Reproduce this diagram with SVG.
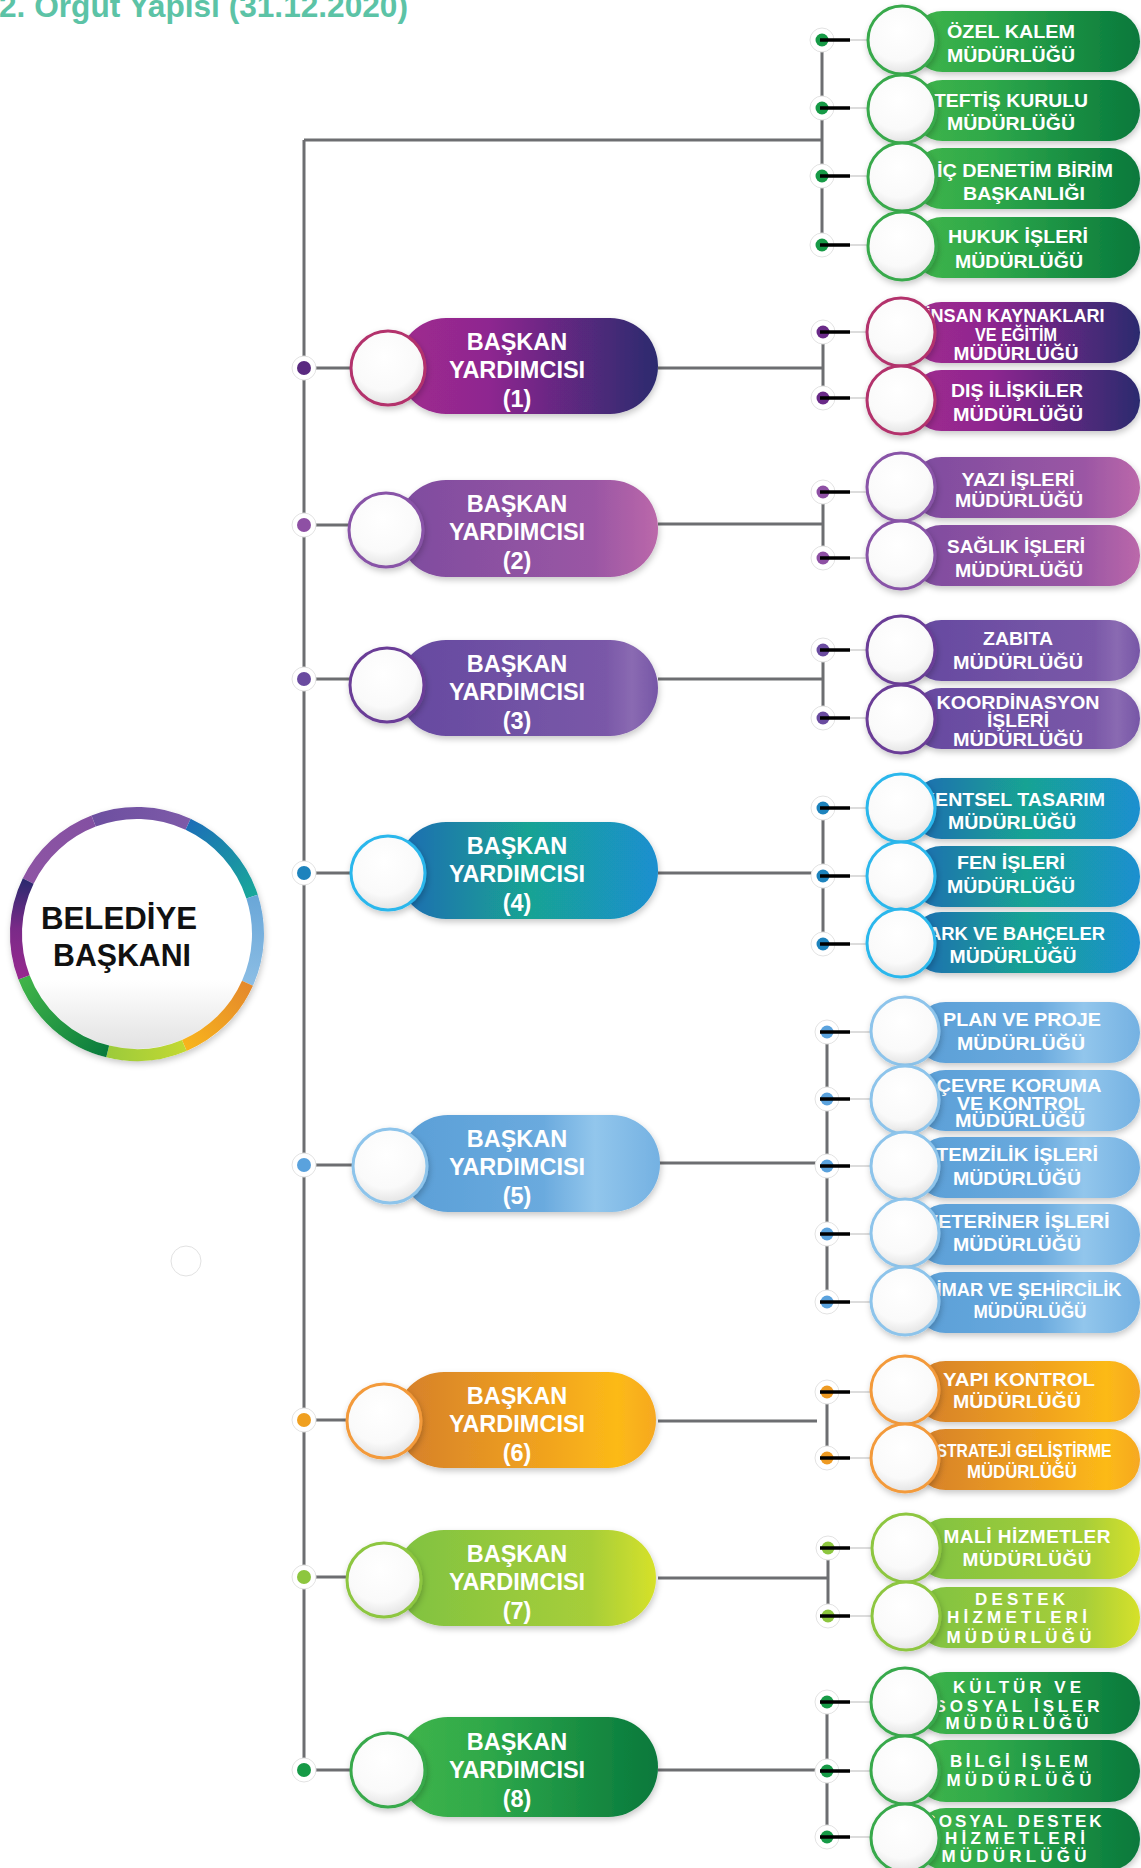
<svg xmlns="http://www.w3.org/2000/svg" width="1141" height="1868" viewBox="0 0 1141 1868">
<style>
.ln{stroke:#6d6e71;stroke-width:3;fill:none}
.tk{stroke:#000;stroke-width:3.5}
.th{stroke:#dcdcdc;stroke-width:2}
.halo{fill:#fff;stroke:#e3e3e3;stroke-width:1}
.cw{fill:url(#cw);stroke-width:3;filter:url(#sh)}
.pl{filter:url(#sh)}
.t{font-family:"Liberation Sans",Arial,sans-serif;font-weight:bold;fill:#fff;text-anchor:middle}
.r{font-size:19px}
.r3{font-size:18px}
.rs{font-size:17px}
.vp{font-size:23.5px}
.bb{font-family:"Liberation Sans",Arial,sans-serif;font-weight:bold;fill:#111;text-anchor:middle;font-size:32px}
.ti{font-family:"Liberation Sans",Arial,sans-serif;font-weight:bold;fill:#5cc3a6;font-size:31px}
.seg{fill:none;stroke-width:12}
</style>
<defs>
<filter id="sh" x="-20%" y="-30%" width="140%" height="170%"><feDropShadow dx="1" dy="3" stdDeviation="3" flood-color="#000" flood-opacity="0.22"/></filter>
<radialGradient id="cw" cx="0.45" cy="0.35" r="0.75"><stop offset="0" stop-color="#fff"/><stop offset="0.6" stop-color="#fafafa"/><stop offset="1" stop-color="#d9d9d9"/></radialGradient>
<linearGradient id="cbig" x1="0" y1="0" x2="0" y2="1"><stop offset="0" stop-color="#fff"/><stop offset="0.7" stop-color="#fff"/><stop offset="1" stop-color="#e2e2e2"/></linearGradient>
<linearGradient id="gG"><stop offset="0" stop-color="#40b54b"/><stop offset="0.35" stop-color="#2ea84a"/><stop offset="1" stop-color="#07783c"/></linearGradient>
<linearGradient id="gM"><stop offset="0" stop-color="#a02a8e"/><stop offset="0.35" stop-color="#8e2790"/><stop offset="1" stop-color="#2b2a6e"/></linearGradient>
<linearGradient id="gV"><stop offset="0" stop-color="#7e4c9f"/><stop offset="0.75" stop-color="#9a56a4"/><stop offset="1" stop-color="#bb68aa"/></linearGradient>
<linearGradient id="gP"><stop offset="0" stop-color="#6549a0"/><stop offset="0.8" stop-color="#7a58a8"/><stop offset="0.9" stop-color="#8a6ab2"/><stop offset="1" stop-color="#7656a6"/></linearGradient>
<linearGradient id="gB"><stop offset="0" stop-color="#1c6bb3"/><stop offset="0.5" stop-color="#19a393"/><stop offset="1" stop-color="#1a8fd0"/></linearGradient>
<linearGradient id="gL"><stop offset="0" stop-color="#5a9fd7"/><stop offset="0.55" stop-color="#6aaade"/><stop offset="0.75" stop-color="#92c6ec"/><stop offset="1" stop-color="#74b1e2"/></linearGradient>
<linearGradient id="gO"><stop offset="0" stop-color="#d57f2b"/><stop offset="0.6" stop-color="#f2a51e"/><stop offset="0.85" stop-color="#fcba18"/><stop offset="1" stop-color="#f6a821"/></linearGradient>
<linearGradient id="gY"><stop offset="0" stop-color="#7fc241"/><stop offset="0.75" stop-color="#a7ce39"/><stop offset="1" stop-color="#d6e12a"/></linearGradient>
<linearGradient id="s1" gradientUnits="userSpaceOnUse" x1="28.2" y1="881" x2="93.6" y2="821"><stop offset="0" stop-color="#8e55a4"/><stop offset="1" stop-color="#8450a2"/></linearGradient>
<linearGradient id="s2" gradientUnits="userSpaceOnUse" x1="93.6" y1="821" x2="188.1" y2="824.3"><stop offset="0" stop-color="#6d4fa0"/><stop offset="1" stop-color="#7d5aa8"/></linearGradient>
<linearGradient id="s3" gradientUnits="userSpaceOnUse" x1="188.1" y1="824.3" x2="252.1" y2="896.6"><stop offset="0" stop-color="#1c6fb7"/><stop offset="1" stop-color="#19a79a"/></linearGradient>
<linearGradient id="s4" gradientUnits="userSpaceOnUse" x1="252.1" y1="896.6" x2="247.5" y2="983.2"><stop offset="0" stop-color="#6aa7d8"/><stop offset="1" stop-color="#8bbde4"/></linearGradient>
<linearGradient id="s5" gradientUnits="userSpaceOnUse" x1="247.5" y1="983.2" x2="184.3" y2="1045.4"><stop offset="0" stop-color="#e4892c"/><stop offset="1" stop-color="#f8b41c"/></linearGradient>
<linearGradient id="s6" gradientUnits="userSpaceOnUse" x1="184.3" y1="1045.4" x2="107.7" y2="1051.4"><stop offset="0" stop-color="#c2d832"/><stop offset="1" stop-color="#9ccb3b"/></linearGradient>
<linearGradient id="s7" gradientUnits="userSpaceOnUse" x1="107.7" y1="1051.4" x2="24" y2="977.4"><stop offset="0" stop-color="#097b3d"/><stop offset="1" stop-color="#40b449"/></linearGradient>
<linearGradient id="s8" gradientUnits="userSpaceOnUse" x1="24" y1="977.4" x2="28.2" y2="881"><stop offset="0" stop-color="#97298f"/><stop offset="0.5" stop-color="#7a2a88"/><stop offset="1" stop-color="#2d2a6f"/></linearGradient>
</defs>

<text class="ti" x="-1" y="17" textLength="409" lengthAdjust="spacingAndGlyphs">2. Örgüt Yapısı (31.12.2020)</text>

<g id="connectors">
<path class="ln" d="M304 140V1770M304 140H822"/>
<path class="ln" d="M822 40V245M823 332V398M658 368H823M823 492V558M658 524H823M823 650V718M658 679H823M823 808V944M658 873H823M827 1032V1302M658 1163H827M827 1392V1458M658 1421H817M828 1548V1616M658 1578H828M827 1702V1837M658 1770H827"/>
<path class="ln" d="M304 368H351M304 525H349M304 679H350M304 873H351M304 1165H353M304 1420H347M304 1577H347M304 1770H351"/>
<g>
<circle class="halo" cx="304" cy="368" r="12"/><circle class="halo" cx="304" cy="525" r="12"/><circle class="halo" cx="304" cy="679" r="12"/><circle class="halo" cx="304" cy="873" r="12"/><circle class="halo" cx="304" cy="1165" r="12"/><circle class="halo" cx="304" cy="1420" r="12"/><circle class="halo" cx="304" cy="1577" r="12"/><circle class="halo" cx="304" cy="1770" r="12"/>
</g>
<circle cx="304" cy="368" r="7" fill="#5a2a80"/><circle cx="304" cy="525" r="7" fill="#8e50a4"/><circle cx="304" cy="679" r="7" fill="#6a4ba0"/><circle cx="304" cy="873" r="7" fill="#1d83bd"/><circle cx="304" cy="1165" r="7" fill="#5aa2dd"/><circle cx="304" cy="1420" r="7" fill="#f0a020"/><circle cx="304" cy="1577" r="7" fill="#8dc63f"/><circle cx="304" cy="1770" r="7" fill="#169a46"/>
<path class="th" d="M850 40H868M850 108H868M850 176H868M850 245H868M850 332H867M850 398H867M850 492H867M850 558H867M850 650H867M850 718H867M850 808H867M850 876H867M850 944H867M850 1032H871M850 1099H871M850 1166H871M850 1234H871M850 1302H871M850 1392H871M850 1458H871M850 1548H872M850 1616H872M850 1702H871M850 1771H871M850 1837H871"/>
<g class="halo">
<circle cx="822" cy="40" r="12"/><circle cx="822" cy="108" r="12"/><circle cx="822" cy="176" r="12"/><circle cx="822" cy="245" r="12"/>
<circle cx="823" cy="332" r="12"/><circle cx="823" cy="398" r="12"/><circle cx="823" cy="492" r="12"/><circle cx="823" cy="558" r="12"/>
<circle cx="823" cy="650" r="12"/><circle cx="823" cy="718" r="12"/><circle cx="823" cy="808" r="12"/><circle cx="823" cy="876" r="12"/><circle cx="823" cy="944" r="12"/>
<circle cx="827" cy="1032" r="12"/><circle cx="827" cy="1099" r="12"/><circle cx="827" cy="1166" r="12"/><circle cx="827" cy="1234" r="12"/><circle cx="827" cy="1302" r="12"/>
<circle cx="827" cy="1392" r="12"/><circle cx="827" cy="1458" r="12"/><circle cx="828" cy="1548" r="12"/><circle cx="828" cy="1616" r="12"/>
<circle cx="827" cy="1702" r="12"/><circle cx="827" cy="1771" r="12"/><circle cx="827" cy="1837" r="12"/>
</g>
<g fill="#169a46"><circle cx="822" cy="40" r="6.5"/><circle cx="822" cy="108" r="6.5"/><circle cx="822" cy="176" r="6.5"/><circle cx="822" cy="245" r="6.5"/><circle cx="827" cy="1702" r="6.5"/><circle cx="827" cy="1771" r="6.5"/><circle cx="827" cy="1837" r="6.5"/></g>
<g fill="#6a2a88"><circle cx="823" cy="332" r="6.5"/><circle cx="823" cy="398" r="6.5"/></g>
<g fill="#8e50a4"><circle cx="823" cy="492" r="6.5"/><circle cx="823" cy="558" r="6.5"/></g>
<g fill="#6a4ba0"><circle cx="823" cy="650" r="6.5"/><circle cx="823" cy="718" r="6.5"/></g>
<g fill="#1d83bd"><circle cx="823" cy="808" r="6.5"/><circle cx="823" cy="876" r="6.5"/><circle cx="823" cy="944" r="6.5"/></g>
<g fill="#5aa2dd"><circle cx="827" cy="1032" r="6.5"/><circle cx="827" cy="1099" r="6.5"/><circle cx="827" cy="1166" r="6.5"/><circle cx="827" cy="1234" r="6.5"/><circle cx="827" cy="1302" r="6.5"/></g>
<g fill="#ee9a22"><circle cx="827" cy="1392" r="6.5"/><circle cx="827" cy="1458" r="6.5"/></g>
<g fill="#8dc63f"><circle cx="828" cy="1548" r="6.5"/><circle cx="828" cy="1616" r="6.5"/></g>
<path class="tk" d="M820 40H850M820 108H850M820 176H850M820 245H850M820 332H850M820 398H850M820 492H850M820 558H850M820 650H850M820 718H850M820 808H850M820 876H850M820 944H850M820 1032H850M820 1099H850M820 1166H850M820 1234H850M820 1302H850M820 1392H850M820 1458H850M820 1548H850M820 1616H850M820 1702H850M820 1771H850M820 1837H850"/>
</g>

<g id="belediye-baskani">
<circle cx="137" cy="934" r="127" fill="#fff" filter="url(#sh)"/>
<circle cx="137" cy="934" r="115" fill="url(#cbig)"/>
<path class="seg" stroke="url(#s1)" d="M28.2 881A121 121 0 0 1 93.6 821"/>
<path class="seg" stroke="url(#s2)" d="M93.6 821A121 121 0 0 1 188.1 824.3"/>
<path class="seg" stroke="url(#s3)" d="M188.1 824.3A121 121 0 0 1 252.1 896.6"/>
<path class="seg" stroke="url(#s4)" d="M252.1 896.6A121 121 0 0 1 247.5 983.2"/>
<path class="seg" stroke="url(#s5)" d="M247.5 983.2A121 121 0 0 1 184.3 1045.4"/>
<path class="seg" stroke="url(#s6)" d="M184.3 1045.4A121 121 0 0 1 107.7 1051.4"/>
<path class="seg" stroke="url(#s7)" d="M107.7 1051.4A121 121 0 0 1 24 977.4"/>
<path class="seg" stroke="url(#s8)" d="M24 977.4A121 121 0 0 1 28.2 881"/>
<text class="bb" x="119" y="929" textLength="156" lengthAdjust="spacingAndGlyphs">BELEDİYE</text>
<text class="bb" x="122" y="966" textLength="138" lengthAdjust="spacingAndGlyphs">BAŞKANI</text>
</g>

<circle cx="186" cy="1261" r="15" fill="none" stroke="#e2e2e2" stroke-width="1"/>

<g id="vp1"><rect class="pl" x="398" y="318" width="260" height="96" rx="48" fill="url(#gM)"/><circle class="cw" cx="388" cy="368" r="37" stroke="#b3326c"/><text class="t vp" x="517" y="350">BAŞKAN</text><text class="t vp" x="517" y="378">YARDIMCISI</text><text class="t vp" x="517" y="407">(1)</text></g>
<g id="vp2"><rect class="pl" x="398" y="480" width="260" height="97" rx="48" fill="url(#gV)"/><circle class="cw" cx="386" cy="530" r="37" stroke="#8853a7"/><text class="t vp" x="517" y="512">BAŞKAN</text><text class="t vp" x="517" y="540">YARDIMCISI</text><text class="t vp" x="517" y="569">(2)</text></g>
<g id="vp3"><rect class="pl" x="398" y="640" width="260" height="96" rx="48" fill="url(#gP)"/><circle class="cw" cx="387" cy="685" r="37" stroke="#6b3d97"/><text class="t vp" x="517" y="672">BAŞKAN</text><text class="t vp" x="517" y="700">YARDIMCISI</text><text class="t vp" x="517" y="729">(3)</text></g>
<g id="vp4"><rect class="pl" x="398" y="822" width="260" height="97" rx="48" fill="url(#gB)"/><circle class="cw" cx="388" cy="873" r="37" stroke="#2cb7ec"/><text class="t vp" x="517" y="854">BAŞKAN</text><text class="t vp" x="517" y="882">YARDIMCISI</text><text class="t vp" x="517" y="911">(4)</text></g>
<g id="vp5"><rect class="pl" x="400" y="1115" width="260" height="97" rx="48" fill="url(#gL)"/><circle class="cw" cx="390" cy="1166" r="37" stroke="#8dc4eb"/><text class="t vp" x="517" y="1147">BAŞKAN</text><text class="t vp" x="517" y="1175">YARDIMCISI</text><text class="t vp" x="517" y="1204">(5)</text></g>
<g id="vp6"><rect class="pl" x="396" y="1372" width="260" height="96" rx="48" fill="url(#gO)"/><circle class="cw" cx="384" cy="1421" r="37" stroke="#f39a3a"/><text class="t vp" x="517" y="1404">BAŞKAN</text><text class="t vp" x="517" y="1432">YARDIMCISI</text><text class="t vp" x="517" y="1461">(6)</text></g>
<g id="vp7"><rect class="pl" x="396" y="1530" width="260" height="96" rx="48" fill="url(#gY)"/><circle class="cw" cx="384" cy="1580" r="37" stroke="#8dc640"/><text class="t vp" x="517" y="1562">BAŞKAN</text><text class="t vp" x="517" y="1590">YARDIMCISI</text><text class="t vp" x="517" y="1619">(7)</text></g>
<g id="vp8"><rect class="pl" x="398" y="1717" width="260" height="100" rx="50" fill="url(#gG)"/><circle class="cw" cx="388" cy="1770" r="37" stroke="#37a94b"/><text class="t vp" x="517" y="1750">BAŞKAN</text><text class="t vp" x="517" y="1778">YARDIMCISI</text><text class="t vp" x="517" y="1807">(8)</text></g>

<g id="ozel-kalem"><rect class="pl" x="912" y="11" width="228" height="61" rx="30.5" fill="url(#gG)"/><text class="t r" x="1011" y="38" textLength="128" lengthAdjust="spacingAndGlyphs">ÖZEL KALEM</text><text class="t r" x="1011" y="62" textLength="128" lengthAdjust="spacingAndGlyphs">MÜDÜRLÜĞÜ</text><circle class="cw" cx="902" cy="40" r="34" stroke="#37a94b"/></g>
<g id="teftis-kurulu"><rect class="pl" x="912" y="80" width="228" height="61" rx="30.5" fill="url(#gG)"/><text class="t r" x="1011" y="107" textLength="154" lengthAdjust="spacingAndGlyphs">TEFTİŞ KURULU</text><text class="t r" x="1011" y="130" textLength="128" lengthAdjust="spacingAndGlyphs">MÜDÜRLÜĞÜ</text><circle class="cw" cx="902" cy="109" r="34" stroke="#37a94b"/></g>
<g id="ic-denetim"><rect class="pl" x="912" y="148" width="228" height="61" rx="30.5" fill="url(#gG)"/><text class="t r" x="1025" y="177" textLength="176" lengthAdjust="spacingAndGlyphs">İÇ DENETİM BİRİM</text><text class="t r" x="1024" y="200" textLength="122" lengthAdjust="spacingAndGlyphs">BAŞKANLIĞI</text><circle class="cw" cx="902" cy="177" r="34" stroke="#37a94b"/></g>
<g id="hukuk"><rect class="pl" x="912" y="217" width="228" height="61" rx="30.5" fill="url(#gG)"/><text class="t r" x="1018" y="243" textLength="140" lengthAdjust="spacingAndGlyphs">HUKUK İŞLERİ</text><text class="t r" x="1019" y="268" textLength="128" lengthAdjust="spacingAndGlyphs">MÜDÜRLÜĞÜ</text><circle class="cw" cx="902" cy="246" r="34" stroke="#37a94b"/></g>

<g id="insan-kaynaklari"><rect class="pl" x="911" y="302" width="229" height="61" rx="30.5" fill="url(#gM)"/><text class="t r3" x="1015" y="322" textLength="179" lengthAdjust="spacingAndGlyphs">İNSAN KAYNAKLARI</text><text class="t r3" x="1016" y="341" textLength="82" lengthAdjust="spacingAndGlyphs">VE EĞİTİM</text><text class="t r3" x="1016" y="360" textLength="125" lengthAdjust="spacingAndGlyphs">MÜDÜRLÜĞÜ</text><circle class="cw" cx="901" cy="332" r="34" stroke="#b3326c"/></g>
<g id="dis-iliskiler"><rect class="pl" x="911" y="370" width="229" height="61" rx="30.5" fill="url(#gM)"/><text class="t r" x="1017" y="397" textLength="132" lengthAdjust="spacingAndGlyphs">DIŞ İLİŞKİLER</text><text class="t r" x="1018" y="421" textLength="130" lengthAdjust="spacingAndGlyphs">MÜDÜRLÜĞÜ</text><circle class="cw" cx="901" cy="400" r="34" stroke="#b3326c"/></g>

<g id="yazi-isleri"><rect class="pl" x="911" y="457" width="229" height="61" rx="30.5" fill="url(#gV)"/><text class="t r" x="1018" y="486" textLength="113" lengthAdjust="spacingAndGlyphs">YAZI İŞLERİ</text><text class="t r" x="1019" y="507" textLength="128" lengthAdjust="spacingAndGlyphs">MÜDÜRLÜĞÜ</text><circle class="cw" cx="901" cy="487" r="34" stroke="#8853a7"/></g>
<g id="saglik-isleri"><rect class="pl" x="911" y="525" width="229" height="61" rx="30.5" fill="url(#gV)"/><text class="t r" x="1016" y="553" textLength="138" lengthAdjust="spacingAndGlyphs">SAĞLIK İŞLERİ</text><text class="t r" x="1019" y="577" textLength="128" lengthAdjust="spacingAndGlyphs">MÜDÜRLÜĞÜ</text><circle class="cw" cx="901" cy="555" r="34" stroke="#8853a7"/></g>

<g id="zabita"><rect class="pl" x="911" y="620" width="229" height="61" rx="30.5" fill="url(#gP)"/><text class="t r" x="1018" y="645" textLength="70" lengthAdjust="spacingAndGlyphs">ZABITA</text><text class="t r" x="1018" y="669" textLength="130" lengthAdjust="spacingAndGlyphs">MÜDÜRLÜĞÜ</text><circle class="cw" cx="901" cy="650" r="34" stroke="#6b3d97"/></g>
<g id="koordinasyon"><rect class="pl" x="911" y="688" width="229" height="61" rx="30.5" fill="url(#gP)"/><text class="t r3" x="1018" y="709" textLength="163" lengthAdjust="spacingAndGlyphs">KOORDİNASYON</text><text class="t r3" x="1018" y="727" textLength="62" lengthAdjust="spacingAndGlyphs">İŞLERİ</text><text class="t r3" x="1018" y="746" textLength="130" lengthAdjust="spacingAndGlyphs">MÜDÜRLÜĞÜ</text><circle class="cw" cx="901" cy="719" r="34" stroke="#6b3d97"/></g>

<g id="kentsel-tasarim"><rect class="pl" x="911" y="778" width="229" height="61" rx="30.5" fill="url(#gB)"/><text class="t r" x="1013" y="806" textLength="184" lengthAdjust="spacingAndGlyphs">KENTSEL TASARIM</text><text class="t r" x="1012" y="829" textLength="128" lengthAdjust="spacingAndGlyphs">MÜDÜRLÜĞÜ</text><circle class="cw" cx="901" cy="808" r="34" stroke="#2cb7ec"/></g>
<g id="fen-isleri"><rect class="pl" x="911" y="846" width="229" height="61" rx="30.5" fill="url(#gB)"/><text class="t r" x="1011" y="869" textLength="108" lengthAdjust="spacingAndGlyphs">FEN İŞLERİ</text><text class="t r" x="1011" y="893" textLength="128" lengthAdjust="spacingAndGlyphs">MÜDÜRLÜĞÜ</text><circle class="cw" cx="901" cy="876" r="34" stroke="#2cb7ec"/></g>
<g id="park-bahceler"><rect class="pl" x="911" y="912" width="229" height="61" rx="30.5" fill="url(#gB)"/><text class="t r" x="1011" y="940" textLength="188" lengthAdjust="spacingAndGlyphs">PARK VE BAHÇELER</text><text class="t r" x="1013" y="963" textLength="127" lengthAdjust="spacingAndGlyphs">MÜDÜRLÜĞÜ</text><circle class="cw" cx="901" cy="943" r="34" stroke="#2cb7ec"/></g>

<g id="plan-proje"><rect class="pl" x="915" y="1002" width="225" height="61" rx="30.5" fill="url(#gL)"/><text class="t r" x="1022" y="1026" textLength="158" lengthAdjust="spacingAndGlyphs">PLAN VE PROJE</text><text class="t r" x="1021" y="1050" textLength="128" lengthAdjust="spacingAndGlyphs">MÜDÜRLÜĞÜ</text><circle class="cw" cx="905" cy="1031" r="34" stroke="#8dc4eb"/></g>
<g id="cevre-koruma"><rect class="pl" x="915" y="1070" width="225" height="61" rx="30.5" fill="url(#gL)"/><text class="t r3" x="1019" y="1092" textLength="165" lengthAdjust="spacingAndGlyphs">ÇEVRE KORUMA</text><text class="t r3" x="1021" y="1110" textLength="128" lengthAdjust="spacingAndGlyphs">VE KONTROL</text><text class="t r3" x="1020" y="1127" textLength="130" lengthAdjust="spacingAndGlyphs">MÜDÜRLÜĞÜ</text><circle class="cw" cx="905" cy="1100" r="34" stroke="#8dc4eb"/></g>
<g id="temizlik-isleri"><rect class="pl" x="915" y="1137" width="225" height="61" rx="30.5" fill="url(#gL)"/><text class="t r" x="1017" y="1161" textLength="162" lengthAdjust="spacingAndGlyphs">TEMZİLİK İŞLERİ</text><text class="t r" x="1017" y="1185" textLength="128" lengthAdjust="spacingAndGlyphs">MÜDÜRLÜĞÜ</text><circle class="cw" cx="905" cy="1166" r="34" stroke="#8dc4eb"/></g>
<g id="veteriner-isleri"><rect class="pl" x="915" y="1204" width="225" height="61" rx="30.5" fill="url(#gL)"/><text class="t r" x="1017" y="1228" textLength="185" lengthAdjust="spacingAndGlyphs">VETERİNER İŞLERİ</text><text class="t r" x="1017" y="1251" textLength="128" lengthAdjust="spacingAndGlyphs">MÜDÜRLÜĞÜ</text><circle class="cw" cx="905" cy="1233" r="34" stroke="#8dc4eb"/></g>
<g id="imar-sehircilik"><rect class="pl" x="915" y="1272" width="225" height="61" rx="30.5" fill="url(#gL)"/><text class="t r" x="1029" y="1296" textLength="185" lengthAdjust="spacingAndGlyphs">İMAR VE ŞEHİRCİLİK</text><text class="t r" x="1030" y="1318" textLength="113" lengthAdjust="spacingAndGlyphs">MÜDÜRLÜĞÜ</text><circle class="cw" cx="905" cy="1301" r="34" stroke="#8dc4eb"/></g>

<g id="yapi-kontrol"><rect class="pl" x="915" y="1361" width="225" height="61" rx="30.5" fill="url(#gO)"/><text class="t r" x="1019" y="1386" textLength="152" lengthAdjust="spacingAndGlyphs">YAPI KONTROL</text><text class="t r" x="1017" y="1408" textLength="128" lengthAdjust="spacingAndGlyphs">MÜDÜRLÜĞÜ</text><circle class="cw" cx="905" cy="1390" r="34" stroke="#f39a3a"/></g>
<g id="strateji"><rect class="pl" x="915" y="1429" width="225" height="61" rx="30.5" fill="url(#gO)"/><text class="t r" x="1024" y="1457" textLength="175" lengthAdjust="spacingAndGlyphs">STRATEJİ GELİŞTİRME</text><text class="t r" x="1022" y="1478" textLength="110" lengthAdjust="spacingAndGlyphs">MÜDÜRLÜĞÜ</text><circle class="cw" cx="905" cy="1458" r="34" stroke="#f39a3a"/></g>

<g id="mali-hizmetler"><rect class="pl" x="916" y="1518" width="224" height="61" rx="30.5" fill="url(#gY)"/><text class="t r" x="1027" y="1543" textLength="167">MALİ HİZMETLER</text><text class="t r" x="1027" y="1566" textLength="129">MÜDÜRLÜĞÜ</text><circle class="cw" cx="906" cy="1548" r="34" stroke="#8dc640"/></g>
<g id="destek-hizmetleri"><rect class="pl" x="916" y="1587" width="224" height="61" rx="30.5" fill="url(#gY)"/><text class="t rs" x="1020" y="1605" textLength="90">DESTEK</text><text class="t rs" x="1017" y="1623" textLength="140">HİZMETLERİ</text><text class="t rs" x="1019" y="1643" textLength="145">MÜDÜRLÜĞÜ</text><circle class="cw" cx="906" cy="1616" r="34" stroke="#8dc640"/></g>

<g id="kultur-sosyal"><rect class="pl" x="915" y="1672" width="225" height="62" rx="31" fill="url(#gG)"/><text class="t rs" x="1017" y="1693" textLength="128">KÜLTÜR VE</text><text class="t rs" x="1017" y="1712" textLength="165">SOSYAL İŞLER</text><text class="t rs" x="1017" y="1729" textLength="143">MÜDÜRLÜĞÜ</text><circle class="cw" cx="905" cy="1702" r="34" stroke="#37a94b"/></g>
<g id="bilgi-islem"><rect class="pl" x="915" y="1740" width="225" height="62" rx="31" fill="url(#gG)"/><text class="t rs" x="1019" y="1767" textLength="138">BİLGİ İŞLEM</text><text class="t rs" x="1019" y="1786" textLength="145">MÜDÜRLÜĞÜ</text><circle class="cw" cx="905" cy="1770" r="34" stroke="#37a94b"/></g>
<g id="sosyal-destek"><rect class="pl" x="915" y="1808" width="225" height="62" rx="31" fill="url(#gG)"/><text class="t rs" x="1013" y="1827" textLength="177">SOSYAL DESTEK</text><text class="t rs" x="1015" y="1844" textLength="140">HİZMETLERİ</text><text class="t rs" x="1014" y="1862" textLength="145">MÜDÜRLÜĞÜ</text><circle class="cw" cx="905" cy="1838" r="34" stroke="#37a94b"/></g>
</svg>
